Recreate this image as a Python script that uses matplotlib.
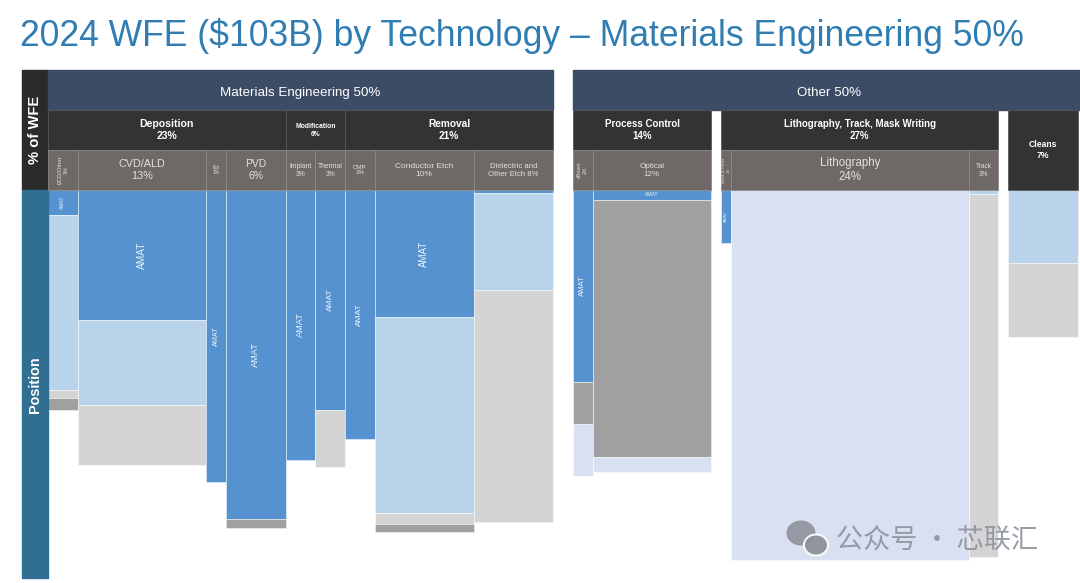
import matplotlib
matplotlib.use("Agg")
import matplotlib.pyplot as plt
from matplotlib.patches import Rectangle, Ellipse

plt.rcParams["font.family"] = ["Liberation Sans", "DejaVu Sans"]

# ── data ───────────────────────────────────────────────────────────────────
TITLE = "2024 WFE ($103B) by Technology – Materials Engineering 50%"

SECTIONS = ["Materials Engineering", "Other"]
SECTION_PCT = [50, 50]

COLS = ["ECD/Other", "CVD/ALD", "Epi", "PVD", "Implant", "Thermal", "CMP",
        "Conductor Etch", "Dielectric and\nOther Etch", "eBeam", "Optical",
        "Mask & Other", "Lithography", "Track", "Cleans"]
COL_PCT = [3, 13, 1, 6, 3, 3, 3, 10, 8, 2, 12, 1, 24, 3, 7]
# drawn widths (% of WFE) as they appear in the slide
COL_WIDTH = [3, 13, 2, 6, 3, 3, 3, 10, 8, 2, 12, 1, 24, 3, 7]
GAP_BEFORE = [0, 0, 0, 0, 0, 0, 0, 0, 0, 2, 0, 1, 0, 0, 1]

GROUPS = ["Deposition", "Modification", "Removal", "Process Control",
          "Lithography, Track, Mask Writing", "Cleans"]
GROUP_PCT = [23, 6, 21, 14, 27, 7]
GROUP_SPAN = [(0, 3), (4, 5), (6, 8), (9, 10), (11, 13), (14, 14)]

# position share stacks, top -> down (% of segment)
SEG_KIND = [
    ["amat", "peer", "other", "dark"],
    ["amat", "peer", "other"],
    ["amat"],
    ["amat", "dark"],
    ["amat"],
    ["amat", "other"],
    ["amat"],
    ["amat", "peer", "other", "dark"],
    ["amat", "peer", "other"],
    ["amat", "dark", "lav"],
    ["amat", "dark", "lav"],
    ["amat"],
    ["lav"],
    ["peer", "other"],
    ["peer", "other"],
]
SEG_VAL = [
    [6.8, 47.3, 2.2, 3.2],
    [35.1, 23.0, 16.2],
    [78.9],
    [88.9, 2.4],
    [73.0],
    [59.5, 15.4],
    [67.3],
    [34.3, 53.0, 3.0, 2.2],
    [0.8, 26.2, 62.7],
    [51.9, 11.4, 14.0],
    [2.7, 69.5, 4.0],
    [14.3],
    [100.0],
    [1.1, 98.1],
    [19.7, 20.0],
]

# ── styles ─────────────────────────────────────────────────────────────────
KIND_COLOURS = {
    "amat":  "#5592cf",
    "peer":  "#b8d3ea",
    "other": "#d4d4d4",
    "dark":  "#a0a0a0",
    "lav":   "#d9e0f1",
}
C_TITLE = "#2f7db3"
C_BAND = "#3d4c66"
C_GROUP = "#333333"
C_SUB = "#6e6967"
C_WFE = "#2b2b2b"
C_POS = "#306f92"

# sub-header label style: (fontsize, rotation)
SUB_STYLE = [(4.2, 90), (7.8, 0), (3.6, 0), (7.5, 0), (4.9, 0), (4.9, 0),
             (4.4, 0), (6.0, 0), (5.6, 0), (3.8, 90), (5.8, 0), (3.0, 90),
             (8.3, 0), (4.7, 0), (0, 0)]
GROUP_FS = [7.6, 4.9, 7.3, 7.0, 7.0, 6.2]
# AMAT label style: (fontsize, rotation)
AMAT_STYLE = [(3.6, 90), (7.3, 90), (5.2, 90), (6.6, 90), (6.6, 90), (6.0, 90),
              (6.0, 90), (7.0, 90), None, (5.6, 90), (3.6, 0), (3.0, 90),
              None, None, None]

# pixel layout -> data units
PX_X0, PX_PER_X = 48, 9.9
PX_Y0, PX_PER_Y = 190, 3.7

def dx(px):
    return (px - PX_X0) / PX_PER_X

def dy(px):
    return (px - PX_Y0) / PX_PER_Y

fig = plt.figure(figsize=(10.8, 5.83), dpi=100)
ax = fig.add_axes([0, 0, 1, 1])
ax.set_xlim(dx(0), dx(1080))
ax.set_ylim(dy(583), dy(0))
ax.axis("off")

fig.text(20 / 1080, 1 - 36 / 583, TITLE, color=C_TITLE, fontsize=25.6,
         va="center", ha="left")

# column positions
lefts = []
x = 0
for w, g in zip(COL_WIDTH, GAP_BEFORE):
    x += g
    lefts.append(x)
    x += w
rights = [l + w for l, w in zip(lefts, COL_WIDTH)]

# ── stacked bars ───────────────────────────────────────────────────────────
for i, (kinds, vals) in enumerate(zip(SEG_KIND, SEG_VAL)):
    bottom = 0
    for k, v in zip(kinds, vals):
        ax.bar(lefts[i], v, COL_WIDTH[i], bottom=bottom, align="edge",
               color=KIND_COLOURS[k], edgecolor=(1, 1, 1, 0.55), linewidth=0.6,
               zorder=2)
        if k == "amat" and AMAT_STYLE[i] is not None:
            fs, rot = AMAT_STYLE[i]
            ax.text(lefts[i] + COL_WIDTH[i] / 2, bottom + v / 2, "AMAT",
                    rotation=rot, fontsize=fs, color="#eef3f9",
                    ha="center", va="center", zorder=4)
        bottom += v

# ── header rows ────────────────────────────────────────────────────────────
top_y0, top_y1 = dy(70), dy(110)
grp_y0, grp_y1 = dy(110), dy(150)
sub_y0, sub_y1 = dy(150), dy(190)

# side boxes
ax.add_patch(Rectangle((dx(22), top_y0), -dx(22), sub_y1 - top_y0,
                       color=C_WFE, zorder=3))
ax.add_patch(Rectangle((dx(22), 0), -dx(22), dy(578), color=C_POS, zorder=3))
ax.text(dx(35), dy(130), "% of WFE", rotation=90, color="white",
        fontsize=10.6, fontweight="bold", ha="center", va="center", zorder=4)
ax.text(dx(35), dy(385), "Position", rotation=90, color="white",
        fontsize=10.4, fontweight="bold", ha="center", va="center", zorder=4)

# section bands
sec_x = [(0, rights[8]), (lefts[9], dx(1080))]
for (x0, x1), name, pct in zip(sec_x, SECTIONS, SECTION_PCT):
    ax.add_patch(Rectangle((x0, top_y0), x1 - x0, top_y1 - top_y0,
                           color=C_BAND, zorder=3))
    cx = (x0 + x1) / 2 if name != "Other" else (x0 + dx(1085)) / 2
    ax.text(cx, dy(93), f"{name} {pct}%", color="white",
            fontsize=9.6, ha="center", va="center", zorder=4)

# group boxes
for name, pct, (a, b), fs in zip(GROUPS, GROUP_PCT, GROUP_SPAN, GROUP_FS):
    x0, x1 = lefts[a], rights[b]
    y1 = grp_y1 if a != b else sub_y1
    ax.add_patch(Rectangle((x0, grp_y0), x1 - x0, y1 - grp_y0,
                           facecolor=C_GROUP, edgecolor="#5a5a5a",
                           linewidth=0.6, zorder=3))
    ax.text((x0 + x1) / 2, (grp_y0 + y1) / 2, f"{name}\n{pct}%",
            color="white", fontsize=fs, fontweight="bold", ha="center",
            va="center", linespacing=1.2, zorder=4)

# sub-header boxes
for i, (name, pct) in enumerate(zip(COLS, COL_PCT)):
    fs, rot = SUB_STYLE[i]
    if fs == 0:
        continue
    ax.add_patch(Rectangle((lefts[i], sub_y0), COL_WIDTH[i], sub_y1 - sub_y0,
                           facecolor=C_SUB, edgecolor="#8c8886",
                           linewidth=0.6, zorder=3))
    label = f"{name}\n{pct}%" if "\n" not in name else f"{name} {pct}%"
    ax.text(lefts[i] + COL_WIDTH[i] / 2, (sub_y0 + sub_y1) / 2, label,
            rotation=rot, color="#e2e0df", fontsize=fs, ha="center",
            va="center", linespacing=1.2, zorder=4)

# ── watermark ─────────────────────────────────────────────────────────────
wm = "#8d929c"
ax.add_patch(Ellipse((dx(801), dy(533)), 29 / PX_PER_X, 25 / PX_PER_Y,
                     facecolor=wm, edgecolor="none", alpha=0.9, zorder=5))
ax.add_patch(Ellipse((dx(816), dy(545)), 24 / PX_PER_X, 21 / PX_PER_Y,
                     facecolor=wm, edgecolor="white", linewidth=1.4,
                     alpha=0.95, zorder=6))
ax.text(dx(836), dy(540), "公众号 · 芯联汇", color=wm, fontsize=19.5,
        family=["Noto Sans CJK SC", "DejaVu Sans"], ha="left", va="center",
        alpha=0.9, zorder=6)

fig.savefig("out.png", dpi=100)
